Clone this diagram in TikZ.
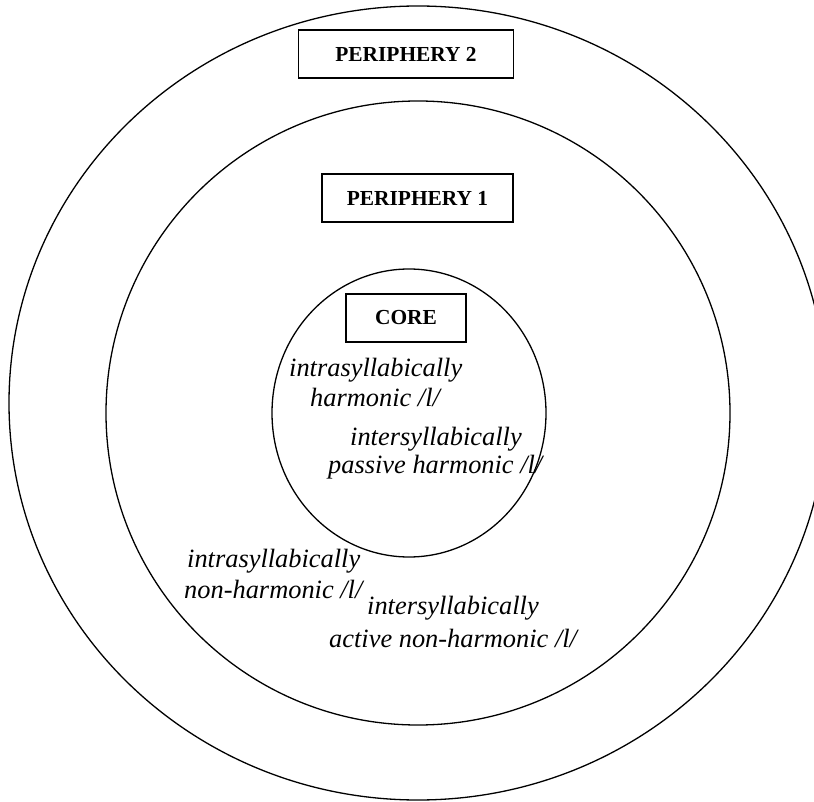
\documentclass[tikz,border=0pt]{standalone}
\usepackage{fontspec}
\setmainfont{Liberation Serif}[
  BoldFont=Liberation Serif Bold,
  ItalicFont=Liberation Serif Italic]
\begin{document}
\begin{tikzpicture}[x=1pt,y=-1pt,
  ring/.style={draw=black,line width=1.3pt},
  tag/.style={draw=black,line width=1.5pt,inner sep=0pt,
    font=\fontsize{21.4}{24}\selectfont\bfseries},
  item/.style={anchor=base west,inner sep=0pt,
    font=\fontsize{26.4}{30}\selectfont\itshape}]
\useasboundingbox (0,0) rectangle (814,802);
\clip (0,0) rectangle (814,802);
% three nested zones
\draw[ring] (418,403) ellipse [x radius=409, y radius=397];
\draw[ring] (418,413) circle [radius=312];
\draw[ring] (409,413) ellipse [x radius=137, y radius=144];
% zone titles
\node[tag,minimum width=215pt,minimum height=48pt] (p2) at (406,54) {PERIPHERY 2};
\node[tag,minimum width=191pt,minimum height=48pt] (p1) at (417.5,198) {PERIPHERY 1};
\node[tag,minimum width=120pt,minimum height=48pt] (core) at (406,318) {CORE};
% members of the core
\node[item] (a1) at (289,376) {intrasyllabically};
\node[item] (a2) at (310,406) {harmonic /l/};
\node[item] (b1) at (350,445) {intersyllabically};
\node[item] (b2) at (328,473) {passive harmonic /l/};
% members of periphery 1
\node[item] (c1) at (187,567) {intrasyllabically};
\node[item] (c2) at (184,598) {non-harmonic /l/};
\node[item] (d1) at (367,614) {intersyllabically};
\node[item] (d2) at (329,647) {active non-harmonic /l/};
\end{tikzpicture}
\end{document}
